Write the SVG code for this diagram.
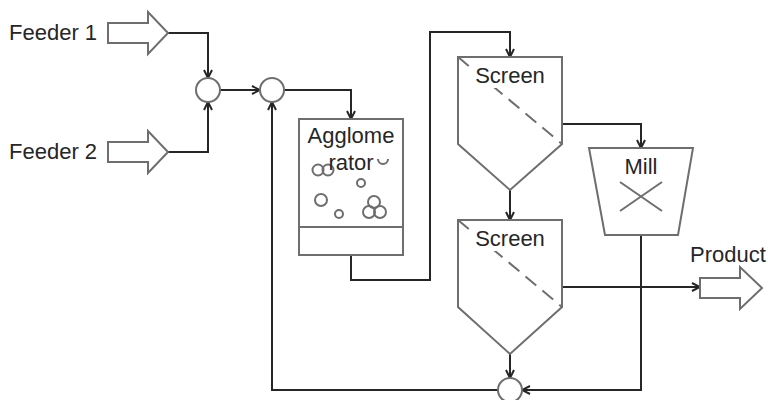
<svg xmlns="http://www.w3.org/2000/svg" width="768" height="400" viewBox="0 0 768 400">
  <style>
    .shape { fill: #ffffff; stroke: #6e6e6e; stroke-width: 2; }
    .deco { fill: none; stroke: #6e6e6e; stroke-width: 2; }
    .dash { fill: none; stroke: #6e6e6e; stroke-width: 2; stroke-dasharray: 14 8; }
    .flow { fill: none; stroke: #262626; stroke-width: 2; }
    .label { font-family: "Liberation Sans", Arial, sans-serif; font-size: 22px; fill: #262626; }
    .mid { text-anchor: middle; }
    .bg { fill: #ffffff; stroke: none; }
  </style>
  <defs>
    <marker id="arrow" viewBox="0 0 10 10" refX="9" refY="5" markerWidth="10" markerHeight="10" markerUnits="userSpaceOnUse" orient="auto">
      <path d="M1,1 L9,5 L1,9" fill="none" stroke="#262626" stroke-width="2"/>
    </marker>
  </defs>

  <rect width="768" height="400" fill="#ffffff"/>

  <!-- connectors -->
  <g id="connectors">
    <polyline class="flow" points="168,33 208,33 208,78" marker-end="url(#arrow)"/>
    <polyline class="flow" points="168,152 208,152 208,102" marker-end="url(#arrow)"/>
    <polyline class="flow" points="220,90 260,90" marker-end="url(#arrow)"/>
    <polyline class="flow" points="284,90 351,90 351,119" marker-end="url(#arrow)"/>
    <polyline class="flow" points="351,255 351,280 430,280 430,32 510,32 510,57" marker-end="url(#arrow)"/>
    <polyline class="flow" points="562,124 641,124 641,148" marker-end="url(#arrow)"/>
    <polyline class="flow" points="510,190 510,220" marker-end="url(#arrow)"/>
    <polyline class="flow" points="562,287 700,287" marker-end="url(#arrow)"/>
    <polyline class="flow" points="510,354 510,378" marker-end="url(#arrow)"/>
    <polyline class="flow" points="641,235 641,390 522,390" marker-end="url(#arrow)"/>
    <polyline class="flow" points="498,390 272,390 272,102" marker-end="url(#arrow)"/>
  </g>

  <!-- feeds -->
  <g id="feeder1">
    <text class="label" x="9" y="40">Feeder 1</text>
    <polygon class="shape" points="108,23 148,23 148,12 168,33 148,54 148,43 108,43"/>
  </g>
  <g id="feeder2">
    <text class="label" x="9" y="159">Feeder 2</text>
    <polygon class="shape" points="108,142 148,142 148,131 168,152 148,173 148,162 108,162"/>
  </g>

  <!-- junctions -->
  <g id="mix1"><circle class="shape" cx="208" cy="90" r="12"/></g>
  <g id="mix2"><circle class="shape" cx="272" cy="90" r="12"/></g>
  <g id="mix3"><circle class="shape" cx="510" cy="390" r="12"/></g>

  <!-- agglomerator -->
  <g id="agglomerator">
    <rect class="shape" x="299" y="119" width="104" height="136"/>
    <line class="deco" x1="299" y1="227" x2="403" y2="227"/>
    <circle class="deco" cx="318" cy="170" r="5.5"/>
    <circle class="deco" cx="328" cy="170" r="5.5"/>
    <path class="deco" d="M378,159 A5,5 0 0 0 388,159"/>
    <circle class="deco" cx="361" cy="183" r="4"/>
    <circle class="deco" cx="321" cy="200" r="6"/>
    <circle class="deco" cx="339" cy="214" r="4"/>
    <circle class="deco" cx="374" cy="202" r="6"/>
    <circle class="deco" cx="369" cy="212" r="6"/>
    <circle class="deco" cx="380" cy="212" r="6"/>
    <text class="label mid" x="351" y="143">Agglome</text>
    <text class="label mid" x="351" y="170">rator</text>
  </g>

  <!-- screens -->
  <g id="screen1">
    <polygon class="shape" points="458,57 562,57 562,144 510,190 458,144"/>
    <line class="dash" x1="458" y1="57" x2="562" y2="144"/>
    <rect class="bg" x="473" y="63" width="74" height="25"/>
    <text class="label mid" x="510" y="83">Screen</text>
  </g>
  <g id="screen2">
    <polygon class="shape" points="458,220 562,220 562,307 510,354 458,307"/>
    <line class="dash" x1="458" y1="220" x2="562" y2="307"/>
    <rect class="bg" x="473" y="226" width="74" height="25"/>
    <text class="label mid" x="510" y="246">Screen</text>
  </g>

  <!-- mill -->
  <g id="mill">
    <polygon class="shape" points="589,148 693,148 678,235 605,235"/>
    <line class="deco" x1="620" y1="182" x2="662" y2="211"/>
    <line class="deco" x1="662" y1="182" x2="620" y2="211"/>
    <text class="label mid" x="641" y="174">Mill</text>
  </g>

  <!-- product -->
  <g id="product">
    <text class="label" x="690" y="262">Product</text>
    <polygon class="shape" points="700,278 740,278 740,267 762,288 740,309 740,298 700,298"/>
  </g>
</svg>
